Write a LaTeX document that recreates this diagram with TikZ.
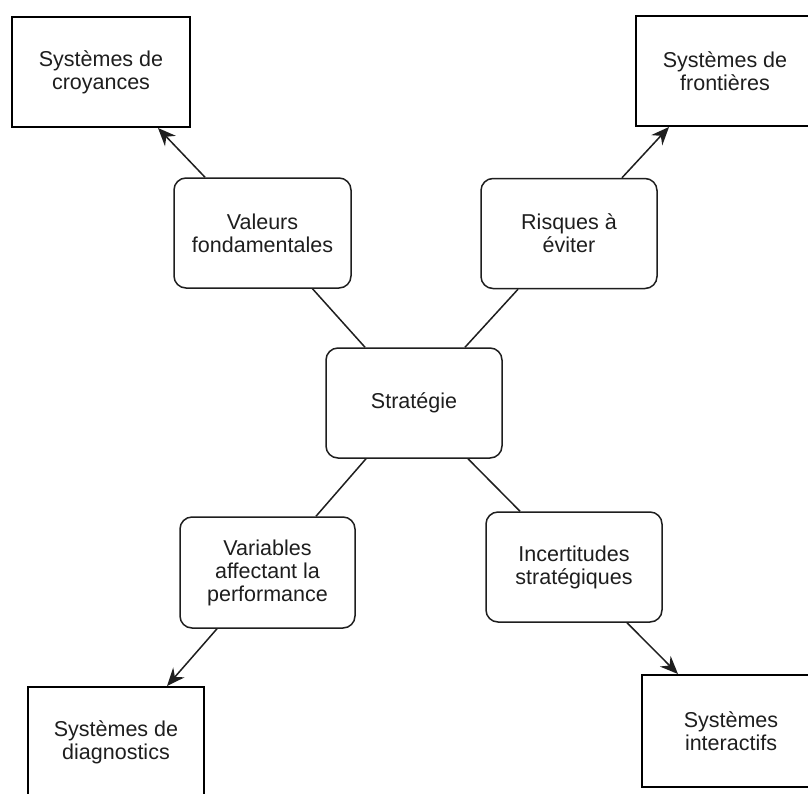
\documentclass[tikz,border=0pt]{standalone}
\usepackage{fontspec}
\setmainfont{Liberation Sans}
\usetikzlibrary{arrows.meta}
\definecolor{ink}{HTML}{1E1E1E}
\tikzset{
  sysbox/.style={draw=black, line width=2pt, rectangle, minimum width=178pt, minimum height=110pt, align=center, text=ink, font=\fontsize{21.5}{23}\selectfont, inner sep=0pt},
  midbox/.style={draw=ink, line width=1.5pt, rectangle, rounded corners=12pt, minimum width=176pt, minimum height=110pt, align=center, text=ink, font=\fontsize{21.5}{23}\selectfont, inner sep=0pt},
  link/.style={draw=ink, line width=1.5pt},
  arr/.style={draw=ink, line width=1.5pt, -{Stealth[length=18pt, width=15pt, inset=6pt]}}
}
\begin{document}
\begin{tikzpicture}[x=1pt, y=-1pt]
\clip (0,0) rectangle (808,793);
\fill[white] (0,0) rectangle (808,793);
\node[sysbox] (bc) at (101,72) {Systèmes de\\croyances};
\node[sysbox] (bf) at (725,71) {Systèmes de\\frontières};
\node[midbox, minimum width=177pt] (vf) at (262.5,233) {Valeurs\\fondamentales};
\node[midbox] (ri) at (569,233.5) {Risques à\\éviter};
\node[midbox] (st) at (414,403) {Stratégie};
\node[midbox, minimum width=175pt, minimum height=111pt] (va) at (267.5,572.5) {Variables\\affectant la\\performance};
\node[midbox] (in) at (574,567) {Incertitudes\\stratégiques};
\node[sysbox, minimum width=176pt] (bd) at (116,742) {Systèmes de\\diagnostics};
\node[sysbox, minimum height=112pt] (bi) at (731,731) {Systèmes\\interactifs};
\draw[link] ([xshift=50]vf.south) -- ([xshift=-49]st.north);
\draw[link] ([xshift=-51]ri.south) -- ([xshift=51]st.north);
\draw[link] ([xshift=-48]st.south) -- ([xshift=48.5]va.north);
\draw[link] ([xshift=54]st.south) -- ([xshift=-54]in.north);
\draw[arr] ([xshift=-57.5]vf.north) -- ([xshift=57]bc.south);
\draw[arr] ([xshift=53]ri.north) -- ([xshift=-56]bf.south);
\draw[arr] ([xshift=-50.5]va.south) -- ([xshift=51]bd.north);
\draw[arr] ([xshift=53]in.south) -- ([xshift=-53]bi.north);
\end{tikzpicture}
\end{document}
